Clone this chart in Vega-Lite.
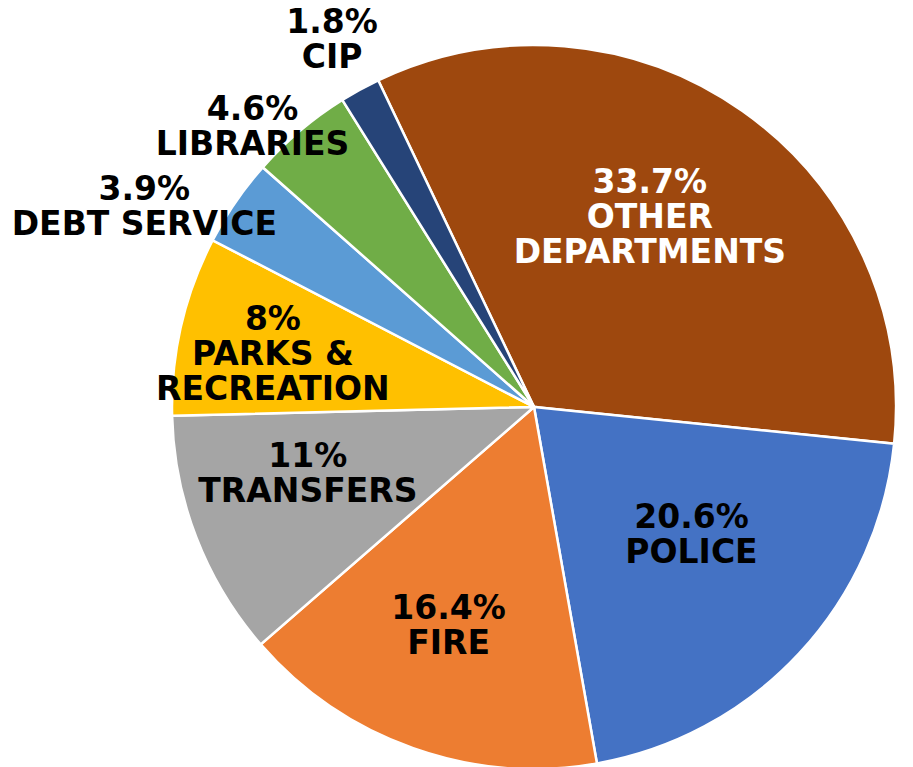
{
  "$schema": "https://vega.github.io/schema/vega-lite/v6.json",
  "width": 724,
  "height": 724,
  "autosize": {"type": "none"},
  "padding": {"left": 172, "top": 45, "right": 17, "bottom": 0},
  "background": "white",
  "view": {"stroke": null},
  "data": {
    "values": [
      {"idx": 1, "category": "OTHER DEPARTMENTS", "pct": 33.7, "label": "33.7%\nOTHER\nDEPARTMENTS"},
      {"idx": 2, "category": "POLICE", "pct": 20.6, "label": "20.6%\nPOLICE"},
      {"idx": 3, "category": "FIRE", "pct": 16.4, "label": "16.4%\nFIRE"},
      {"idx": 4, "category": "TRANSFERS", "pct": 11, "label": "11%\nTRANSFERS"},
      {"idx": 5, "category": "PARKS & RECREATION", "pct": 8, "label": "8%\nPARKS &\nRECREATION"},
      {"idx": 6, "category": "DEBT SERVICE", "pct": 3.9, "label": "3.9%\nDEBT SERVICE"},
      {"idx": 7, "category": "LIBRARIES", "pct": 4.6, "label": "4.6%\nLIBRARIES"},
      {"idx": 8, "category": "CIP", "pct": 1.8, "label": "1.8%\nCIP"}
    ]
  },
  "encoding": {
    "theta": {"field": "pct", "type": "quantitative", "stack": true, "scale": {"domain": [0, 100], "range": [-0.445, 5.8382]}},
    "order": {"field": "idx", "type": "quantitative"}
  },
  "layer": [
    {
      "mark": {"type": "arc", "outerRadius": 362, "stroke": "white", "strokeWidth": 2.5},
      "encoding": {
        "color": {
          "field": "category", "type": "nominal", "legend": null,
          "scale": {
            "domain": ["OTHER DEPARTMENTS", "POLICE", "FIRE", "TRANSFERS", "PARKS & RECREATION", "DEBT SERVICE", "LIBRARIES", "CIP"],
            "range": ["#9E480E", "#4472C4", "#ED7D31", "#A5A5A5", "#FFC000", "#5B9BD5", "#70AD47", "#264478"]
          }
        }
      }
    },
    {
      "mark": {"type": "text", "radius": 222, "dx": -12, "dy": -43, "font": "DejaVu Sans", "fontWeight": "bold", "fontSize": 33, "lineHeight": 35, "lineBreak": "\n", "align": "center", "baseline": "middle", "fill": "white"},
      "encoding": {"text": {"condition": {"test": "datum.idx == 1", "field": "label"}, "value": ""}}
    },
    {
      "mark": {"type": "text", "radius": 200, "dx": 11, "dy": -25, "font": "DejaVu Sans", "fontWeight": "bold", "fontSize": 33, "lineHeight": 35, "lineBreak": "\n", "align": "center", "baseline": "middle", "fill": "black"},
      "encoding": {"text": {"condition": {"test": "datum.idx == 2", "field": "label"}, "value": ""}}
    },
    {
      "mark": {"type": "text", "radius": 235, "dx": -7, "dy": -20, "font": "DejaVu Sans", "fontWeight": "bold", "fontSize": 33, "lineHeight": 35, "lineBreak": "\n", "align": "center", "baseline": "middle", "fill": "black"},
      "encoding": {"text": {"condition": {"test": "datum.idx == 3", "field": "label"}, "value": ""}}
    },
    {
      "mark": {"type": "text", "radius": 235, "dx": -7, "dy": -35, "font": "DejaVu Sans", "fontWeight": "bold", "fontSize": 33, "lineHeight": 35, "lineBreak": "\n", "align": "center", "baseline": "middle", "fill": "black"},
      "encoding": {"text": {"condition": {"test": "datum.idx == 4", "field": "label"}, "value": ""}}
    },
    {
      "mark": {"type": "text", "radius": 268, "dy": -27, "font": "DejaVu Sans", "fontWeight": "bold", "fontSize": 33, "lineHeight": 35, "lineBreak": "\n", "align": "center", "baseline": "middle", "fill": "black"},
      "encoding": {"text": {"condition": {"test": "datum.idx == 5", "field": "label"}, "value": ""}}
    },
    {
      "mark": {"type": "text", "radius": 430, "dx": -35, "dy": 26, "font": "DejaVu Sans", "fontWeight": "bold", "fontSize": 33, "lineHeight": 35, "lineBreak": "\n", "align": "center", "baseline": "middle", "fill": "black"},
      "encoding": {"text": {"condition": {"test": "datum.idx == 6", "field": "label"}, "value": ""}}
    },
    {
      "mark": {"type": "text", "radius": 400, "dx": -23, "dy": 8, "font": "DejaVu Sans", "fontWeight": "bold", "fontSize": 33, "lineHeight": 35, "lineBreak": "\n", "align": "center", "baseline": "middle", "fill": "black"},
      "encoding": {"text": {"condition": {"test": "datum.idx == 7", "field": "label"}, "value": ""}}
    },
    {
      "mark": {"type": "text", "radius": 420, "dy": -16, "font": "DejaVu Sans", "fontWeight": "bold", "fontSize": 33, "lineHeight": 35, "lineBreak": "\n", "align": "center", "baseline": "middle", "fill": "black"},
      "encoding": {"text": {"condition": {"test": "datum.idx == 8", "field": "label"}, "value": ""}}
    }
  ]
}
